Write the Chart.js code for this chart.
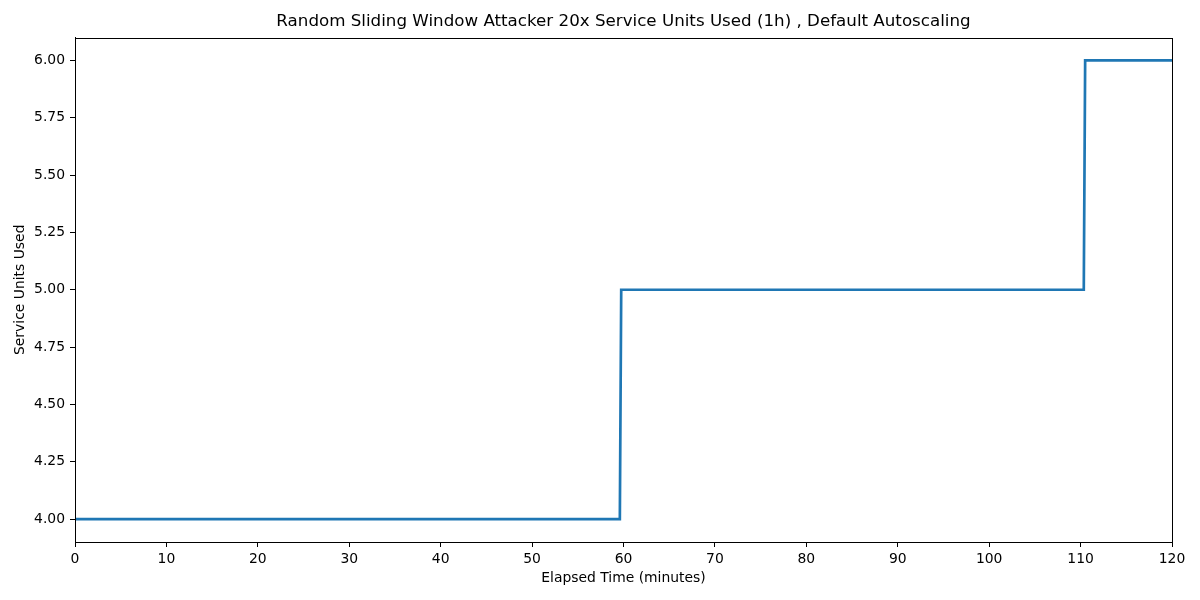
<!DOCTYPE html>
<html>
<head>
<meta charset="utf-8">
<script src="https://cdn.jsdelivr.net/npm/chart.js@4.4.1/dist/chart.umd.min.js"></script>
<style>
  html, body { margin: 0; padding: 0; background: #fff; }
  #wrap { width: 1200px; height: 600px; }
</style>
</head>
<body>
<div id="wrap"><canvas id="chart" width="1200" height="600"></canvas></div>
<script>
// step points of the service-unit series (minutes, units)
const elapsedMinutes = [0, 59.6, 59.75, 110.35, 110.5, 120];
const serviceUnits   = [4, 4, 5, 5, 6, 6];
const xTickValues = [0, 10, 20, 30, 40, 50, 60, 70, 80, 90, 100, 110, 120];
const yTickValues = [4.00, 4.25, 4.50, 4.75, 5.00, 5.25, 5.50, 5.75, 6.00];

const FONT = 'DejaVu Sans';

// draw the box around the plot area like matplotlib spines
const frame = {
  id: 'frame',
  afterDraw(chart) {
    const { ctx, chartArea: a } = chart;
    ctx.save();
    ctx.strokeStyle = '#000';
    ctx.lineWidth = 1;
    ctx.strokeRect(Math.round(a.left) + 0.5, Math.round(a.top) + 0.5,
                   Math.round(a.right - a.left), Math.round(a.bottom - a.top));
    ctx.restore();
  }
};

new Chart(document.getElementById('chart'), {
  type: 'line',
  data: {
    datasets: [{
      data: elapsedMinutes.map((x, i) => ({ x: x, y: serviceUnits[i] })),
      borderColor: '#1f77b4',
      borderWidth: 2.7,
      pointRadius: 0,
      tension: 0,
      fill: false
    }]
  },
  plugins: [frame],
  options: {
    responsive: false,
    animation: false,
    layout: { padding: { left: 0, right: 28, top: 0, bottom: 0 } },
    plugins: {
      legend: { display: false },
      tooltip: { enabled: false },
      title: {
        display: true,
        fullSize: false,
        text: 'Random Sliding Window Attacker 20x Service Units Used (1h) , Default Autoscaling',
        color: '#000',
        font: { family: FONT, size: 16.7, weight: 'normal', lineHeight: 1.2 },
        padding: { top: 12, bottom: 5.5 }
      }
    },
    scales: {
      x: {
        type: 'linear',
        min: 0,
        max: 120,
        afterBuildTicks: s => { s.ticks = xTickValues.map(v => ({ value: v })); },
        afterFit: s => { s.height = 58; },
        grid: { drawOnChartArea: false, drawTicks: true, tickLength: 5, color: '#000' },
        border: { display: true, color: '#000' },
        ticks: {
          color: '#000', padding: 4, maxRotation: 0, autoSkip: false,
          font: { family: FONT, size: 13.9 },
          callback: v => String(v)
        },
        title: {
          display: true, text: 'Elapsed Time (minutes)', color: '#000',
          font: { family: FONT, size: 13.9 }, padding: { top: 4, bottom: 13 }
        }
      },
      y: {
        type: 'linear',
        min: 3.9,
        max: 6.1,
        afterBuildTicks: s => { s.ticks = yTickValues.map(v => ({ value: v })); },
        afterFit: s => { s.width = 75; },
        grid: { drawOnChartArea: false, drawTicks: true, tickLength: 5, color: '#000' },
        border: { display: true, color: '#000' },
        ticks: {
          color: '#000', padding: 5, autoSkip: false,
          font: { family: FONT, size: 13.9 },
          callback: v => Number(v).toFixed(2)
        },
        title: {
          display: true, text: 'Service Units Used', color: '#000',
          font: { family: FONT, size: 13.9 }, padding: { top: 12, bottom: 0 }
        }
      }
    }
  }
});
</script>
</body>
</html>
